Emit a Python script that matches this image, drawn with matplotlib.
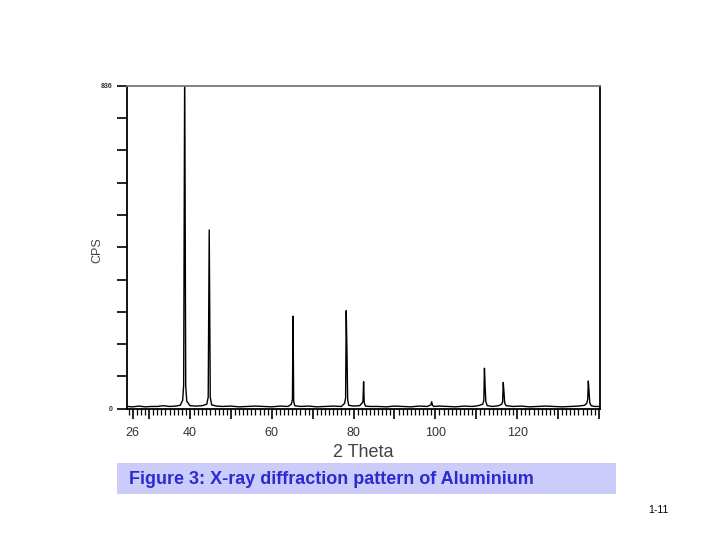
import matplotlib
matplotlib.use("Agg")
import matplotlib.pyplot as plt
from matplotlib.patches import Rectangle

plt.rcParams['font.family'] = ['Liberation Sans', 'DejaVu Sans']

# diffraction trace (2-theta in degrees, counts per second)
two_theta = [24.7, 26.0, 27.5, 29.0, 30.5, 32.0, 33.5, 35.0, 36.5, 37.6,
             38.2, 38.45, 38.7, 38.95, 39.2, 40.0, 41.5, 43.0, 44.1,
             44.45, 44.7, 44.95, 45.3, 46.5, 48.0, 50.0, 52.0, 54.0, 56.0,
             58.0, 60.0, 62.0, 64.0, 64.8, 65.05, 65.2, 65.35, 65.6, 67.0,
             69.0, 71.0, 73.0, 75.0, 77.0, 77.8, 78.05, 78.2, 78.4, 78.55,
             78.8, 80.0, 81.5, 82.1, 82.3, 82.45, 82.6, 82.9, 84.0, 86.0,
             88.0, 90.0, 92.0, 94.0, 96.0, 98.0, 98.9, 99.1, 99.3, 99.6,
             101.0, 103.0, 105.0, 107.0, 109.0, 110.5, 111.6, 111.85, 112.0,
             112.2, 112.35, 112.7, 114.0, 115.5, 116.2, 116.45, 116.6, 116.8,
             116.95, 117.3, 119.0, 121.0, 123.0, 125.0, 127.0, 129.0, 131.0,
             133.0, 135.0, 136.5, 137.0, 137.25, 137.4, 137.6, 137.75, 138.1,
             139.0, 140.2]
cps = [6, 5, 7, 5, 6, 6, 8, 6, 7, 9,
       22, 60, 900, 60, 20, 8, 7, 8, 12,
       30, 463, 30, 10, 7, 6, 7, 5, 6, 7,
       6, 5, 7, 6, 12, 25, 240, 20, 8, 6,
       7, 5, 6, 7, 6, 14, 28, 254, 135, 25,
       9, 7, 8, 15, 20, 70, 16, 7, 6, 6,
       5, 7, 6, 5, 7, 6, 10, 18, 9, 6,
       7, 6, 5, 7, 6, 8, 12, 22, 105,
       50, 18, 8, 6, 8, 12, 18, 68, 40,
       15, 8, 6, 7, 5, 6, 7, 6, 5,
       6, 7, 9, 14, 24, 72, 42, 16, 8,
       6, 6]

y_max = 836
x_labels = [26, 40, 60, 80, 100, 120]

fig = plt.figure(figsize=(7.2, 5.4), dpi=100)
ax = fig.add_axes([0.177, 0.243, 0.656, 0.598])

ax.plot(two_theta, cps, color='black', lw=1.0)
ax.set_xlim(24.7, 140.2)
ax.set_ylim(0, y_max)

# x ticks: long ones every 10 deg, short ones every degree
major = [26] + list(range(30, 141, 10))
ax.set_xticks(major)
ax.set_xticklabels([str(v) if v in x_labels else '' for v in major],
                   fontsize=9, color='#333333')
ax.set_xticks(range(25, 141), minor=True)
ax.tick_params(axis='x', which='major', length=7, width=1.2, pad=6)
ax.tick_params(axis='x', which='minor', length=4, width=0.9)

# y ticks: ten steps, only the ends labelled
yt = [y_max * i / 10 for i in range(11)]
ax.set_yticks(yt)
ax.set_yticklabels(['0'] + [''] * 9 + [str(y_max)], fontsize=5,
                   fontweight='bold', color='#333333')
ax.tick_params(axis='y', length=7, width=1.2, pad=4)

for s in ax.spines.values():
    s.set_linewidth(1.3)
ax.spines['top'].set_color('#777777')

ax.set_ylabel('CPS', fontsize=9, color='#444444')
ax.yaxis.set_label_coords(-0.05, 0.49)
ax.set_xlabel('2 Theta', fontsize=13, color='#444444', labelpad=4)

# caption band
fig.patches.append(Rectangle((117 / 720, 1 - 494 / 540), 499 / 720, 31 / 540,
                             transform=fig.transFigure, facecolor='#ccccfa',
                             edgecolor='none'))
fig.text(129 / 720, 1 - 480 / 540, 'Figure 3: X-ray diffraction pattern of Aluminium',
         fontsize=13, fontweight='bold', color='#2b2bd0', va='center')
fig.text(658 / 720, 1 - 510 / 540, '1-11', fontsize=7.5, ha='center', va='center')

fig.savefig('out.png', dpi=100)
